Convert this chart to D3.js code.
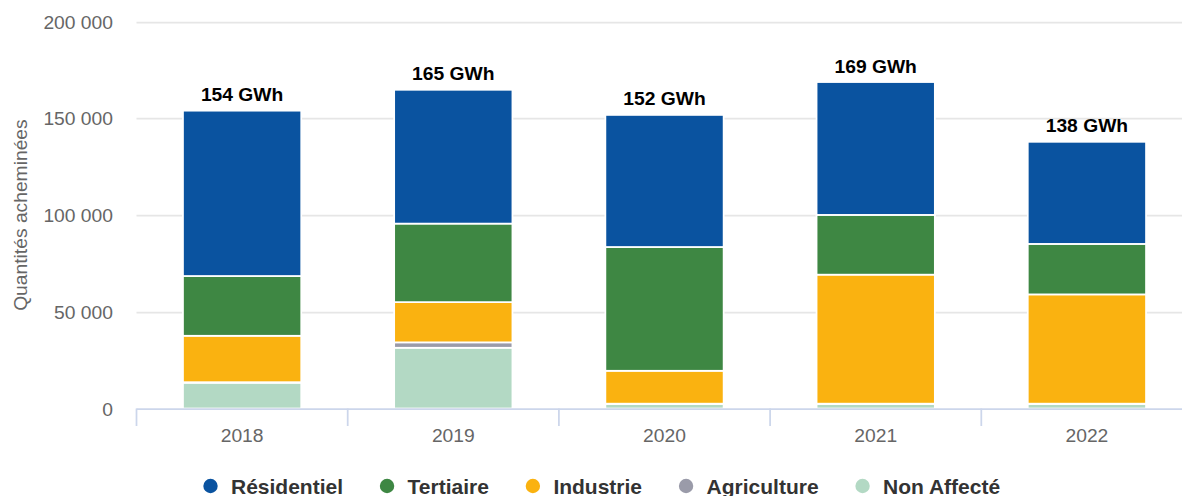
<!DOCTYPE html>
<html>
<head>
<meta charset="utf-8">
<script src="https://cdn.jsdelivr.net/npm/d3@7"></script>
<style>
  html, body { margin: 0; padding: 0; background: #fff; }
  svg { display: block; font-family: "Liberation Sans", Arial, Helvetica, sans-serif; }
</style>
</head>
<body>
<svg id="chart" width="1182" height="496"></svg>
<script>
// ---- data (MWh) ----
const years = ["2018", "2019", "2020", "2021", "2022"];
const seriesNames = ["Non Affecté", "Agriculture", "Industrie", "Tertiaire", "Résidentiel"];
const nonAffecte  = [13300, 31400, 2300, 2300, 2300];
const agriculture = [300, 2800, 200, 200, 200];
const industrie   = [24000, 20800, 17000, 66700, 56500];
const tertiaire   = [30900, 40600, 64000, 30900, 26100];
const residentiel = [85500, 69200, 68300, 68700, 52800];
const yTicks = [0, 50000, 100000, 150000, 200000];
const legendOrder = ["Résidentiel", "Tertiaire", "Industrie", "Agriculture", "Non Affecté"];
const yTitle = "Quantités acheminées";

const colors = {
  "Résidentiel": "#0a53a0",
  "Tertiaire": "#3e8743",
  "Industrie": "#fab210",
  "Agriculture": "#9a9ba9",
  "Non Affecté": "#b3d9c4"
};

const valuesBySeries = {
  "Non Affecté": nonAffecte,
  "Agriculture": agriculture,
  "Industrie": industrie,
  "Tertiaire": tertiaire,
  "Résidentiel": residentiel
};

const table = years.map((y, i) => {
  const row = { year: y };
  seriesNames.forEach(s => row[s] = valuesBySeries[s][i]);
  return row;
});

const svg = d3.select("#chart");
const W = 1182, H = 496;
const plotLeft = 136.5, plotRight = 1192.5, plotTop = 21.7, plotBottom = 408.5;

const x = d3.scaleBand().domain(years).range([plotLeft, plotRight]).paddingInner(0.44).paddingOuter(0.22);
const y = d3.scaleLinear().domain([0, 200000]).range([plotBottom, plotTop]);

const loc = d3.formatLocale({ decimal: ",", thousands: "\u00a0", grouping: [3], currency: ["", "€"] });
const fmt = loc.format(",d");

// gridlines
svg.append("g").selectAll("line").data(yTicks.filter(d => d > 0)).join("line")
  .attr("x1", plotLeft).attr("x2", W)
  .attr("y1", d => Math.round(y(d)) + 0.5).attr("y2", d => Math.round(y(d)) + 0.5)
  .attr("stroke", "#e6e6e6").attr("stroke-width", 1.75);

// y tick labels
svg.append("g").selectAll("text").data(yTicks).join("text")
  .attr("x", 113).attr("y", d => y(d) + 7)
  .attr("text-anchor", "end")
  .attr("font-size", "19.25px").attr("fill", "#666666")
  .text(d => fmt(d));

// y title
svg.append("text")
  .attr("transform", `translate(27,${(plotTop + plotBottom) / 2}) rotate(-90)`)
  .attr("text-anchor", "middle")
  .attr("font-size", "19.25px").attr("fill", "#666666")
  .text(yTitle);

// stacked bars
const stack = d3.stack().keys(seriesNames)(table);
svg.append("g").selectAll("g").data(stack).join("g")
  .attr("fill", d => colors[d.key])
  .selectAll("rect").data(d => d).join("rect")
  .attr("x", d => x(d.data.year))
  .attr("width", x.bandwidth())
  .attr("y", d => y(d[1]))
  .attr("height", d => Math.max(0, y(d[0]) - y(d[1])))
  .attr("stroke", "#ffffff").attr("stroke-width", 1.75);

// x axis line and ticks
const axisG = svg.append("g");
axisG.append("line").attr("x1", plotLeft).attr("x2", W)
  .attr("y1", plotBottom + 0.5).attr("y2", plotBottom + 0.5)
  .attr("stroke", "#ccd6eb").attr("stroke-width", 1.75);
const bounds = years.map(yr => x(yr) - x.step() * x.paddingInner() / 2);
axisG.selectAll("line.tick").data(bounds).join("line").attr("class", "tick")
  .attr("x1", d => d).attr("x2", d => d)
  .attr("y1", plotBottom).attr("y2", plotBottom + 17.5)
  .attr("stroke", "#ccd6eb").attr("stroke-width", 1.75);
axisG.selectAll("text").data(years).join("text")
  .attr("x", d => x(d) + x.bandwidth() / 2).attr("y", 442)
  .attr("text-anchor", "middle")
  .attr("font-size", "19.25px").attr("fill", "#666666")
  .text(d => d);

// totals
const totals = table.map(r => ({ year: r.year, total: d3.sum(seriesNames, s => r[s]) }));
svg.append("g").selectAll("text").data(totals).join("text")
  .attr("x", d => x(d.year) + x.bandwidth() / 2)
  .attr("y", d => y(d.total) - 9.5)
  .attr("text-anchor", "middle")
  .attr("font-size", "19.25px").attr("font-weight", "bold").attr("fill", "#000000")
  .text(d => `${Math.round(d.total / 1000)} GWh`);

// legend
const leg = svg.append("g");
let cx = 210.5;
const legY = 486;
legendOrder.forEach(name => {
  leg.append("circle").attr("cx", cx).attr("cy", legY).attr("r", 7.2).attr("fill", colors[name]);
  const t = leg.append("text").attr("x", cx + 20.5).attr("y", legY + 7.5)
    .attr("font-size", "21px").attr("font-weight", "bold").attr("fill", "#333333")
    .text(name);
  cx = cx + 20.5 + t.node().getComputedTextLength() + 44;
});
</script>
</body>
</html>
